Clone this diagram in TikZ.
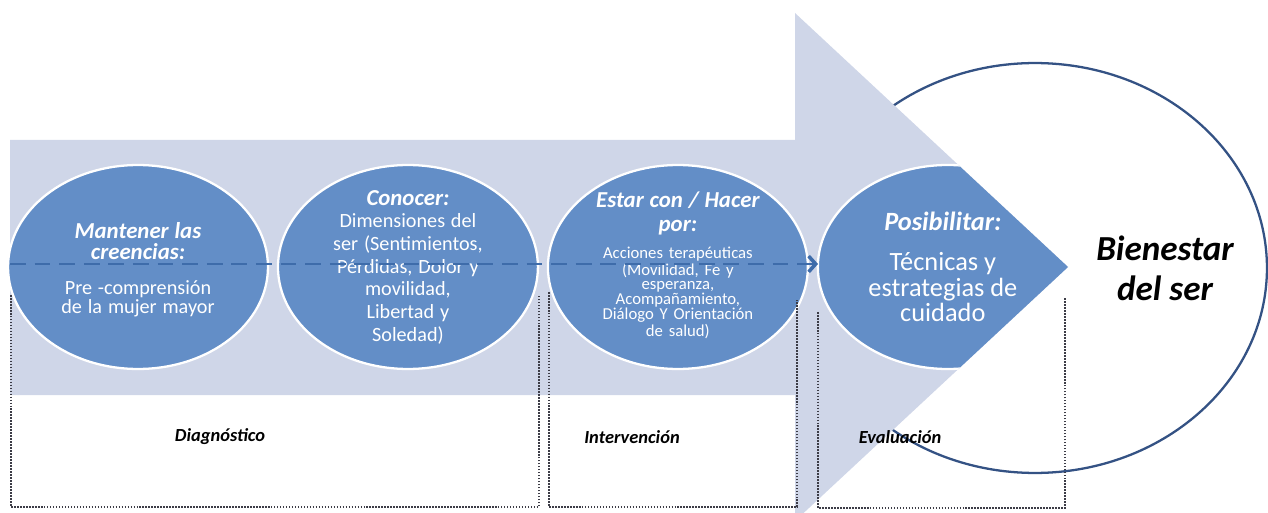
\documentclass[tikz,border=0pt]{standalone}
\usepackage{fontspec}
\setmainfont{Carlito}
\usepackage{xcolor}
\usetikzlibrary{shapes.geometric, positioning, arrows.meta}

\definecolor{arrowfill}{RGB}{207,214,232}
\definecolor{stageblue}{RGB}{99,142,199}
\definecolor{flowblue}{RGB}{62,108,170}
\definecolor{rimblue}{RGB}{52,82,132}
\definecolor{boxgray}{RGB}{60,60,70}

\begin{document}
\begin{tikzpicture}[x=0.02cm,y=-0.02cm,node distance=5.4cm,
    stage/.style={ellipse,draw=white,line width=1.3pt,fill=stageblue,
                  minimum width=5.2cm,minimum height=4.08cm,inner sep=0pt},
    stage text/.style={text=white,align=center,text width=4.6cm,inner sep=0pt},
    ring/.style={ellipse,draw=rimblue,line width=1.3pt,fill=white,
                 minimum width=9.28cm,minimum height=8.2cm},
    flow/.style={draw=flowblue,line width=1.7pt,dash pattern=on 9pt off 5pt,
                 -{Straight Barb[length=4pt,width=9pt,line width=2pt]}},
    phase box/.style={draw=boxgray,line width=1pt,dash pattern=on 0.9pt off 0.8pt},
    phase/.style={font=\bfseries\itshape\fontsize{10.5}{12}\selectfont}]

  \useasboundingbox (0,0) rectangle (1268,513);

  \node[ring] (ring) at (1035,268) {};

  \coordinate (body nw) at (10,140);
  \coordinate (body ne) at (795,140);
  \coordinate (head top) at (795,13);
  \coordinate (tip) at (1068,267);
  \coordinate (head bottom) at (795,521);
  \coordinate (body se) at (795,395);
  \coordinate (body sw) at (10,395);
  \fill[arrowfill] (body nw) -- (body ne) -- (head top) -- (tip)
    -- (head bottom) -- (body se) -- (body sw) -- cycle;

  \node[stage] (mantener) at (138,267) {};
  \node[stage] (conocer) [right of=mantener] {};
  \node[stage] (estar) [right of=conocer] {};
  \node[coordinate] (posib) [right of=estar] {};
  \begin{scope}
    \clip (head top) -- (tip) -- (head bottom) -- cycle;
    \fill[stageblue,draw=white,line width=1.3pt] (posib) ellipse (130 and 102);
  \end{scope}

  \node[stage text] (mantener text) [yshift=-0.06cm] at (mantener) {%
    {\bfseries\itshape\fontsize{13}{12}\selectfont Mantener las\\creencias:\par}
    \vspace{9pt}
    {\fontsize{11.5}{10.8}\selectfont Pre -comprensión\\de la mujer mayor\par}};
  \node[stage text] (conocer text) at (conocer) {%
    {\bfseries\itshape\fontsize{13}{13}\selectfont Conocer:\par}
    {\fontsize{11.5}{12.9}\selectfont Dimensiones del\\ser (Sentimientos,\\Pérdidas, Dolor y\\movilidad,\\Libertad y\\Soledad)\par}};
  \node[stage text] (estar text) [yshift=0.04cm] at (estar) {%
    {\bfseries\itshape\fontsize{13}{14}\selectfont Estar con / Hacer\\por:\par}
    \vspace{5.7pt}
    {\fontsize{9.5}{8.4}\selectfont Acciones terapéuticas\\(Movilidad, Fe y\\esperanza,\\Acompañamiento,\\Diálogo Y Orientación\\de salud)\par}};
  \node[stage text] (posib text) [xshift=-0.1cm] at (posib) {%
    {\bfseries\itshape\fontsize{15}{15}\selectfont Posibilitar:\par}
    \vspace{8pt}
    {\fontsize{15}{14.7}\selectfont Técnicas y\\estrategias de\\cuidado\par}};

  \node[align=center,font=\bfseries\itshape\fontsize{20}{22.7}\selectfont]
    (bienestar) at (1165,268) {Bienestar\\del ser};

  \coordinate (flow start) at (10,264);
  \coordinate (flow end) at (818,264);
  \draw[flow] (flow start) -- (flow end);

  \draw[phase box] (11,295) |- (539,507) -- (539,295);
  \draw[phase box] (549,292) |- (797,507) -- (797,300);
  \draw[phase box] (818,312) |- (1065,508) -- (1065,297);

  \node[phase] (diagnostico) at (220,437) {Diagnóstico};
  \node[phase] (intervencion) at (632,437) {Intervención};
  \node[phase] (evaluacion) at (900,437) {Evaluación};
\end{tikzpicture}
\end{document}
